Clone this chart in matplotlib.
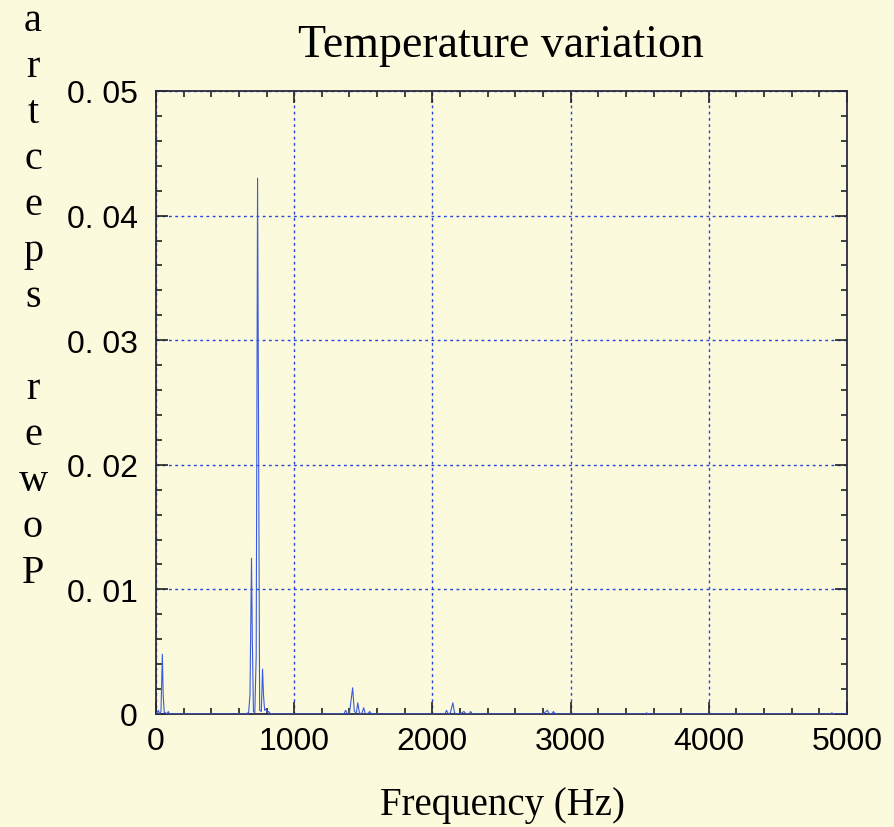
import matplotlib
matplotlib.use("Agg")
import matplotlib.pyplot as plt
from matplotlib.ticker import MultipleLocator, FixedLocator

# ---- data ----
freq_hz = [0, 8, 17, 26, 36, 46, 52, 60, 70, 80, 89, 98, 150,
           640, 670, 680, 691, 697, 705, 715, 725, 735, 742, 750, 762, 771,
           778, 786, 795, 805, 815, 830,
           1300, 1360, 1372, 1385, 1400, 1423, 1435, 1450, 1460, 1472, 1488,
           1503, 1515, 1530, 1546, 1560,
           2050, 2090, 2102, 2115, 2130, 2148, 2160, 2175, 2200, 2228, 2245,
           2265, 2276, 2290,
           2800, 2833, 2845, 2862, 2876, 2890,
           3540, 3550, 3560, 4880, 4890, 4900, 5000]
power = [0.0000, 0.0001, 0.0003, 0.0000, 0.0002, 0.0048, 0.0015, 0.0001, 0.0001, 0.0000, 0.0002, 0.0000, 0.0000,
         0.0000, 0.0001, 0.0015, 0.0125, 0.0060, 0.0002, 0.0001, 0.0047, 0.0430, 0.0230, 0.0003, 0.0002, 0.0036,
         0.0015, 0.0003, 0.0004, 0.0001, 0.0002, 0.0000,
         0.0000, 0.0000, 0.0003, 0.0000, 0.0001, 0.0021, 0.0002, 0.0001, 0.0009, 0.0001, 0.0000,
         0.0005, 0.0000, 0.0000, 0.0002, 0.0000,
         0.0000, 0.0000, 0.0003, 0.0000, 0.0001, 0.0009, 0.0001, 0.0000, 0.0000, 0.0002, 0.0000,
         0.0000, 0.0002, 0.0000,
         0.0000, 0.0003, 0.0000, 0.0000, 0.0002, 0.0000,
         0.0000, 0.0001, 0.0000, 0.0000, 0.0001, 0.0000, 0.0000]

x_ticks = [0, 1000, 2000, 3000, 4000, 5000]
x_tick_labels = ["0", "1000", "2000", "3000", "4000", "5000"]
y_ticks = [0, 0.01, 0.02, 0.03, 0.04, 0.05]
y_tick_labels = ["0", "0. 01", "0. 02", "0. 03", "0. 04", "0. 05"]

title = "Temperature variation"
xlabel = "Frequency (Hz)"
ylabel = "Power spectra"

bg = "#FCFADC"
line_color = "#3a5be0"
grid_color = "#2244dd"
tick_font = ["Liberation Sans"]
serif_font = ["Liberation Serif", "DejaVu Serif"]

fig = plt.figure(figsize=(8.94, 8.28), dpi=100, facecolor=bg)
ax = fig.add_axes([156 / 894, 1 - 715 / 828, (847 - 156) / 894, (715 - 92) / 828])
ax.set_facecolor(bg)

ax.plot(freq_hz, power, color=line_color, lw=0.8, zorder=3)

ax.set_xlim(0, 5000)
ax.set_ylim(0, 0.05)
ax.xaxis.set_major_locator(FixedLocator(x_ticks))
ax.yaxis.set_major_locator(FixedLocator(y_ticks))
ax.xaxis.set_minor_locator(MultipleLocator(200))
ax.yaxis.set_minor_locator(MultipleLocator(0.002))
ax.set_xticklabels(x_tick_labels, fontfamily=tick_font, fontsize=23, color="black")
ax.set_yticklabels(y_tick_labels, fontfamily=tick_font, fontsize=23, color="black")

ax.tick_params(which="both", direction="in", top=True, right=True, colors="#222222",
               labelcolor="black")
ax.tick_params(which="major", length=8.6, width=1.2)
ax.tick_params(which="minor", length=4.3, width=1.2)
ax.tick_params(axis="x", which="major", pad=9)
ax.tick_params(axis="y", which="major", pad=13)

ax.grid(True, which="major", color=grid_color, linestyle=(0, (2, 2.5)), linewidth=1.0, zorder=1)

for s in ax.spines.values():
    s.set_color("#2a2a40")
    s.set_linewidth(1.3)

fig.text(501 / 894, 1 - 57 / 828, title, fontfamily=serif_font, fontsize=33,
         ha="center", va="baseline")
fig.text(502 / 894, 1 - 815 / 828, xlabel, fontfamily=serif_font, fontsize=28,
         ha="center", va="baseline")

# vertical label drawn as upright letters stacked from the top (reversed order)
for i, ch in enumerate(ylabel[::-1]):
    if ch == " ":
        continue
    fig.text(33 / 894, 1 - (31 + 46 * i) / 828, ch, fontfamily=serif_font,
             fontsize=29, ha="center", va="baseline")

fig.savefig("out.png", dpi=100, facecolor=bg)
